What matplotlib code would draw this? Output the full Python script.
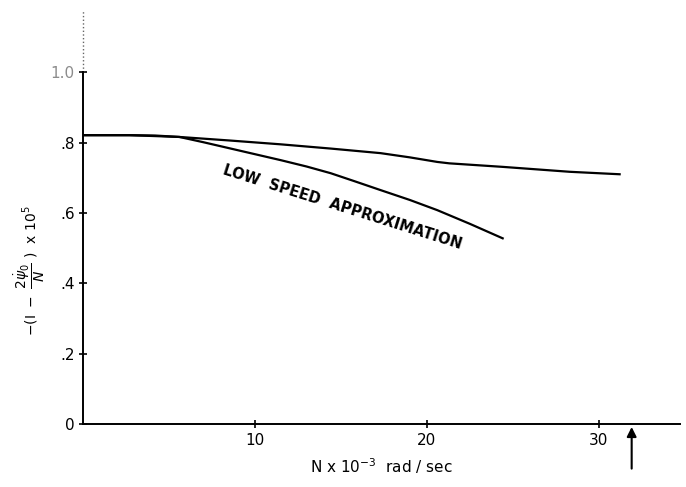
import matplotlib
matplotlib.use('Agg')
import matplotlib.pyplot as plt

# values (N x 10^-3 rad/sec, ordinate x 10^5)
n_full = [0, 2.7, 5.6, 8.5, 11.5, 14.4, 17.3, 19.0, 20.6, 21.3, 24.4, 28.3, 31.2]
y_full = [0.821, 0.821, 0.816, 0.806, 0.795, 0.783, 0.770, 0.758, 0.745, 0.741, 0.731, 0.717, 0.710]

n_low = [0, 2.7, 4.2, 5.6, 7.0, 8.5, 10.0, 11.5, 13.0, 14.4, 15.8, 17.3, 19.0, 20.6, 22.5, 24.4]
y_low = [0.821, 0.821, 0.820, 0.816, 0.801, 0.784, 0.767, 0.750, 0.732, 0.713, 0.690, 0.665, 0.637, 0.608, 0.569, 0.528]

yticks = [0, 0.2, 0.4, 0.6, 0.8, 1.0]
ytick_labels = ['0', '.2', '.4', '.6', '.8', '1.0']
xticks = [10, 20, 30]
xtick_labels = ['10', '20', '30']
n_arrow = 31.9

fig = plt.figure(figsize=(6.86, 4.87), dpi=100)
ax = fig.add_axes([0.121, 0.129, 0.870, 0.850])

ax.plot(n_full, y_full, color='black', lw=1.6)
ax.plot(n_low, y_low, color='black', lw=1.6)

ax.set_xlim(0, 34.7)
ax.set_ylim(0, 1.176)

ax.spines['top'].set_visible(False)
ax.spines['right'].set_visible(False)
ax.spines['left'].set_bounds(0, 1.0)
ax.spines['left'].set_linewidth(1.4)
ax.spines['bottom'].set_linewidth(1.4)
# faint dotted continuation of the y axis
ax.axvline(0, ymin=1.0 / 1.176, ymax=1.0, color='0.4', lw=1.0, ls=':', clip_on=False)

ax.set_yticks(yticks)
ax.set_yticklabels(ytick_labels, fontsize=11)
ax.set_xticks(xticks)
ax.set_xticklabels(xtick_labels, fontsize=11)
ax.tick_params(axis='both', direction='inout', length=6, width=1.2, pad=3)
ax.get_yticklabels()[-1].set_color('0.55')

ax.set_xlabel(r'N x 10$^{-3}$  rad / sec', fontsize=11, labelpad=6)
ax.set_ylabel(r'$-(\mathrm{I}\ -\ \dfrac{2\dot{\psi}_0}{N}\ )\ \ \mathrm{x}\ 10^5$',
              fontsize=10)
ax.yaxis.set_label_coords(-0.06, 0.37)

ax.text(15.1, 0.616, 'LOW  SPEED  APPROXIMATION', rotation=-17.5,
        ha='center', va='center', fontsize=10.5, fontweight='bold')

ax.annotate('', xy=(n_arrow, 0), xycoords='data',
            xytext=(0, -34), textcoords='offset points',
            arrowprops=dict(arrowstyle='-|>', color='black', lw=1.5,
                            mutation_scale=14),
            annotation_clip=False)

fig.savefig('out.png', dpi=100)
